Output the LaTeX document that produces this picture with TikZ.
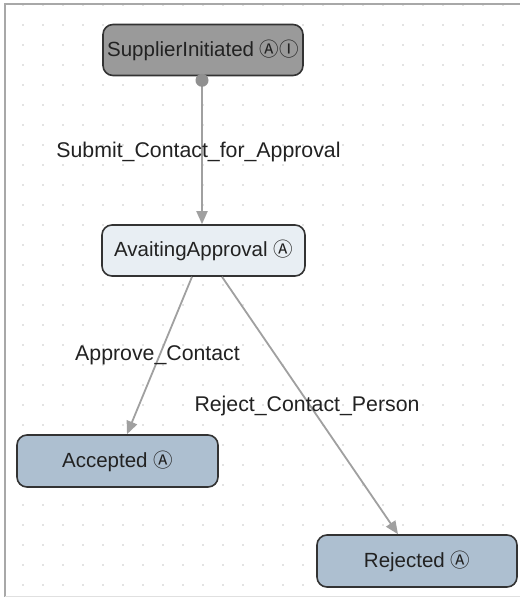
\documentclass[tikz,border=0pt]{standalone}
\usepackage{fontspec}
\setmainfont{Liberation Sans}
\newfontfamily\symfont{Noto Sans CJK JP}[BoldFont={* Medium}]
\usetikzlibrary{arrows.meta,calc}
\definecolor{edgegray}{HTML}{A0A0A0}
\definecolor{dotgray}{HTML}{C8C8C8}
\definecolor{framegray}{HTML}{A8A8A8}
\definecolor{initfill}{HTML}{9A9A9A}
\definecolor{waitfill}{HTML}{E8EEF3}
\definecolor{endfill}{HTML}{ADBFD0}
\definecolor{textdark}{HTML}{222222}
\newcommand{\statesym}[1]{{\symfont\fontsize{19.5}{20}\selectfont #1}}
\tikzset{
  statebox/.style={draw=black!80, line width=1.6pt, rounded corners=10pt,
    minimum height=51pt, inner sep=0pt, text=textdark,
    font=\fontsize{20.5}{24}\selectfont},
  edgelabel/.style={text=textdark, font=\fontsize{21.3}{25}\selectfont, inner sep=0pt},
  trans/.style={draw=edgegray, line width=1.8pt,
    -{Triangle[length=13pt,width=11pt,fill=edgegray]}}
}
\begin{document}
\begin{tikzpicture}[x=1pt,y=-1pt]
\useasboundingbox (0,0) rectangle (520,597);
\fill[white] (0,0) rectangle (520,597);
% dotted grid
\foreach \i in {0,...,24}{
  \foreach \j in {0,...,29}{
    \fill[dotgray] (23+20*\i,5+20*\j) circle (0.9);
  }
}
% frame
\draw[framegray, line width=1.5pt] (5,597) -- (5,4) -- (520,4);
\draw[black!12, line width=1pt] (5,596) -- (520,596);
% nodes
\node[statebox, fill=initfill, minimum width=200pt] (sup) at (203,50)
  {SupplierInitiated \statesym{ⒶⒾ}};
\node[statebox, fill=waitfill, minimum width=203pt] (aw) at (203.5,250.5)
  {AvaitingApproval \statesym{Ⓐ}};
\node[statebox, fill=endfill, minimum width=201pt, minimum height=52pt] (acc) at (117.5,461)
  {Accepted \statesym{Ⓐ}};
\node[statebox, fill=endfill, minimum width=200pt, minimum height=52pt] (rej) at (417,561)
  {Rejected \statesym{Ⓐ}};
% start dot
\coordinate (supdot) at ($(sup.south)+(-1,4)$);
% transitions
\draw[trans] (supdot) -- ($(aw.north)+(-1.5,0)$);
\fill[edgegray!90!black] (supdot) circle (6.5);
\draw[trans] ($(aw.south)+(-11.5,0)$) -- ($(acc.north)+(9.5,0)$);
\draw[trans] ($(aw.south)+(18.5,0)$) -- ($(rej.north)+(-19,0)$);
% labels
\node[edgelabel] (l1) at (198.5,152) {Submit\_Contact\_for\_Approval};
\node[edgelabel] (l2) at (157.5,355) {Approve\_Contact};
\node[edgelabel] (l3) at (307,406) {Reject\_Contact\_Person};
\end{tikzpicture}
\end{document}
